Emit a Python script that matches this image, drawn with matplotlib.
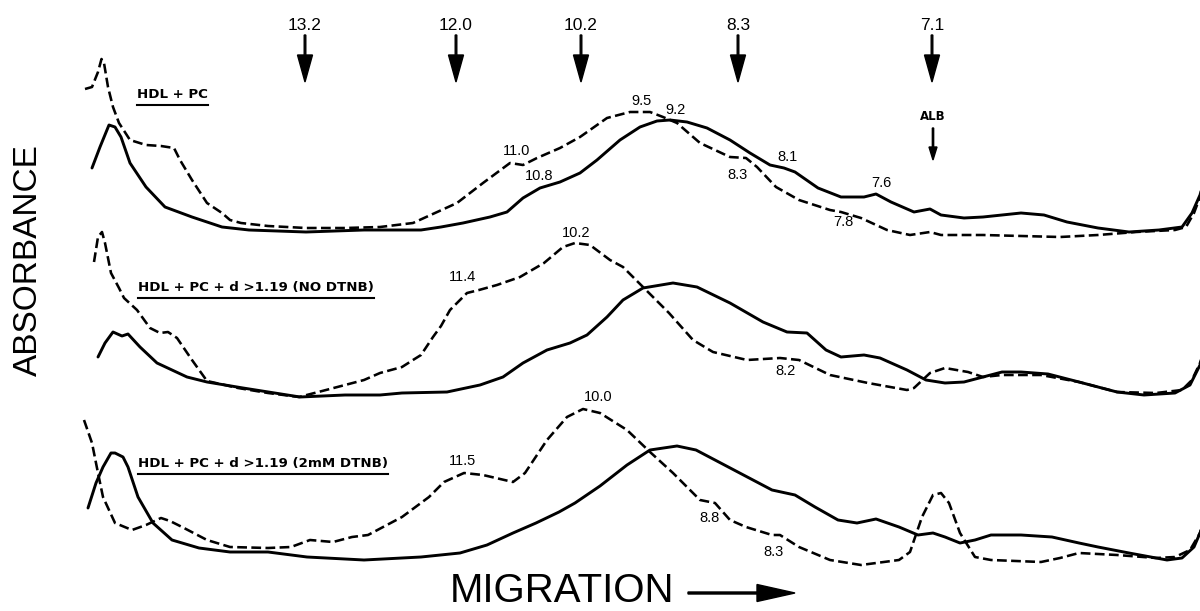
import matplotlib
matplotlib.use("Agg")
import matplotlib.pyplot as plt

plt.rcParams["font.family"] = ["Liberation Sans", "DejaVu Sans"]

# Densitometer traces (x = migration, y = pen position, down = low absorbance)
# --- HDL + PC ---
hdl_pc_dash_x = [85, 92, 98, 101.5, 104, 108, 113, 119, 130, 146, 161, 174, 180, 192, 207, 222, 230, 241,
                 268, 306, 345, 380, 413, 457, 483, 510, 523, 537, 560, 580, 607, 630, 650, 663, 677, 700,
                 730, 746, 757, 776, 799, 830, 841, 861, 887, 910, 930, 941, 983, 1060, 1098, 1136, 1175,
                 1186, 1194, 1200, 1204]
hdl_pc_dash_y = [89, 87, 72, 59, 63, 87, 107, 123, 140, 145, 146, 148, 160, 180, 203, 213, 220, 223,
                 226, 228, 228, 227, 223, 203, 183, 163, 165, 158, 148, 137, 118, 112, 112, 117, 123, 143,
                 157, 158, 167, 187, 200, 210, 212, 218, 230, 235, 232, 235, 235, 237, 235, 232, 230,
                 227, 213, 197, 185]
hdl_pc_solid_x = [92, 100, 109, 115, 121, 130, 146, 165, 192, 222, 249, 306, 364, 421, 441, 463, 490, 507,
                  523, 540, 560, 580, 597, 620, 640, 657, 670, 687, 707, 730, 750, 770, 784, 795, 818, 841,
                  864, 876, 891, 914, 930, 941, 964, 983, 1021, 1044, 1067, 1098, 1129, 1159, 1182, 1192,
                  1200, 1204]
hdl_pc_solid_y = [168, 147, 125, 127, 137, 163, 187, 207, 217, 227, 230, 232, 230, 230, 227, 223, 217, 212,
                  198, 188, 182, 173, 160, 140, 127, 121, 120, 122, 128, 140, 153, 165, 168, 172, 188, 197,
                  197, 194, 202, 212, 209, 215, 218, 217, 213, 215, 222, 228, 232, 230, 227, 213,
                  195, 180]

# --- HDL + PC + d>1.19 (NO DTNB) ---
no_dtnb_dash_x = [94, 98, 102, 105, 111, 119, 124, 137, 150, 160, 168, 177, 192, 207, 238, 268, 299, 326,
                  364, 380, 402, 413, 421, 433, 441, 450, 460, 467, 479, 497, 520, 544, 563, 575, 590, 610,
                  623, 644, 669, 693, 713, 747, 780, 799, 830, 868, 907, 914, 930, 945, 968, 983, 1002,
                  1041, 1079, 1117, 1156, 1182, 1192, 1200, 1204]
no_dtnb_dash_y = [262, 237, 232, 243, 273, 288, 298, 310, 328, 333, 332, 338, 360, 381, 388, 393, 397, 390,
                  380, 373, 367, 360, 355, 337, 326, 310, 300, 293, 290, 285, 277, 263, 247, 243, 245, 260,
                  267, 288, 313, 340, 352, 360, 358, 360, 375, 383, 390, 388, 373, 368, 372, 377, 375,
                  375, 382, 392, 393, 390, 380, 363, 350]
no_dtnb_solid_x = [98, 105, 113, 122, 128, 140, 157, 187, 207, 243, 300, 345, 380, 402, 447, 480, 503, 523,
                   547, 570, 587, 607, 623, 643, 673, 697, 730, 763, 787, 807, 826, 841, 864, 880, 907, 926,
                   945, 964, 983, 1002, 1021, 1048, 1079, 1117, 1144, 1175, 1190, 1200, 1204]
no_dtnb_solid_y = [357, 343, 332, 336, 334, 347, 363, 377, 382, 388, 397, 395, 395, 393, 392, 385, 377, 363,
                   350, 343, 335, 317, 300, 288, 283, 287, 303, 322, 332, 333, 350, 357, 355, 358, 370, 380,
                   383, 382, 377, 372, 372, 374, 382, 392, 395, 393, 385, 365, 352]

# --- HDL + PC + d>1.19 (2mM DTNB) ---
dtnb_dash_x = [84, 92, 98, 103, 115, 132, 146, 161, 170, 184, 207, 230, 268, 291, 310, 333, 352, 368, 402,
               429, 444, 464, 483, 513, 525, 547, 567, 583, 600, 627, 650, 673, 700, 715, 730, 746, 772, 780,
               799, 830, 861, 899, 910, 922, 933, 941, 949, 960, 975, 991, 1041, 1060, 1079, 1117, 1156,
               1175, 1190, 1200, 1204]
dtnb_dash_y = [420, 443, 473, 497, 523, 530, 525, 518, 521, 528, 540, 547, 548, 547, 540, 542, 537, 535, 517,
               497, 482, 473, 475, 482, 473, 440, 417, 409, 413, 430, 452, 473, 500, 503, 520, 527, 535, 535,
               547, 560, 565, 560, 552, 517, 495, 493, 503, 533, 557, 560, 562, 558, 553, 555, 558,
               557, 550, 533, 520]
dtnb_solid_x = [88, 96, 103, 111, 115, 123, 128, 138, 153, 172, 199, 230, 268, 307, 364, 421, 460, 487, 513,
                536, 559, 575, 600, 627, 650, 677, 696, 715, 734, 772, 795, 815, 838, 857, 876, 899, 918,
                933, 945, 960, 975, 991, 1021, 1052, 1079, 1098, 1129, 1167, 1182, 1194, 1200, 1204]
dtnb_solid_y = [508, 483, 467, 453, 453, 457, 467, 497, 523, 540, 548, 552, 552, 557, 560, 557, 553, 545, 533,
                523, 512, 503, 486, 465, 450, 446, 450, 460, 470, 490, 495, 507, 520, 523, 519, 527, 535,
                533, 537, 543, 540, 535, 535, 537, 543, 547, 553, 560, 558, 547, 533, 522]

# marker proteins (Stokes diameter, nm) along the top
marker_labels = ["13.2", "12.0", "10.2", "8.3", "7.1"]
marker_x = [305, 456, 581, 738, 932]

# peak labels
peak_labels = ["11.0", "10.8", "9.5", "9.2", "8.3", "8.1", "7.6", "7.8",
               "11.4", "10.2", "8.2",
               "11.5", "10.0", "8.8", "8.3"]
peak_x = [517, 539, 642, 675, 737, 787, 881, 843,
          463, 576, 786,
          463, 598, 709, 773]
peak_y = [151, 176, 101, 110, 175, 157, 183, 222,
          277, 233, 371,
          461, 397, 518, 552]

trace_names = ["HDL + PC", "HDL + PC + d >1.19 (NO DTNB)", "HDL + PC + d >1.19 (2mM DTNB)"]
trace_name_x = [137, 138, 138]
trace_name_y = [95, 288, 464]

fig = plt.figure(figsize=(12, 6.11), dpi=100)
ax = fig.add_axes([0, 0, 1, 1])
ax.set_xlim(0, 1200)
ax.set_ylim(611, 0)
ax.axis("off")

dash = (0, (3.8, 1.7))
for xs, ys in [(hdl_pc_dash_x, hdl_pc_dash_y), (no_dtnb_dash_x, no_dtnb_dash_y), (dtnb_dash_x, dtnb_dash_y)]:
    ax.plot(xs, ys, color="black", lw=1.85, linestyle=dash, solid_joinstyle="round")
for xs, ys in [(hdl_pc_solid_x, hdl_pc_solid_y), (no_dtnb_solid_x, no_dtnb_solid_y), (dtnb_solid_x, dtnb_solid_y)]:
    ax.plot(xs, ys, color="black", lw=2.1, solid_joinstyle="round", solid_capstyle="round")

# marker arrows
for lab, mx in zip(marker_labels, marker_x):
    ax.text(mx, 25, lab, ha="center", va="center", fontsize=12.5)
    ax.arrow(mx, 35, 0, 47, width=1.6, head_width=15, head_length=27,
             length_includes_head=True, fc="black", ec="black")

# albumin
ax.text(933, 117, "ALB", ha="center", va="center", fontsize=8.5, fontweight="bold",
        family="DejaVu Sans")
ax.arrow(933, 128, 0, 32, width=1.3, head_width=8, head_length=13,
         length_includes_head=True, fc="black", ec="black")

for lab, px, py in zip(peak_labels, peak_x, peak_y):
    ax.text(px, py, lab, ha="center", va="center", fontsize=10.5)

# underlined sample names
fig.canvas.draw()
renderer = fig.canvas.get_renderer()
for name, tx, ty in zip(trace_names, trace_name_x, trace_name_y):
    t = ax.text(tx, ty, name, ha="left", va="center", fontsize=9.6, fontweight="bold",
                family="DejaVu Sans")
    bb = t.get_window_extent(renderer).transformed(ax.transData.inverted())
    ax.plot([bb.x0, bb.x1], [ty + 10, ty + 10], color="black", lw=1.5)

ax.text(28, 260, "ABSORBANCE", rotation=90, ha="center", va="center", fontsize=24)
ax.text(562, 591, "MIGRATION", ha="center", va="center", fontsize=29)
ax.arrow(688, 593, 107, 0, width=2, head_width=17, head_length=38,
         length_includes_head=True, fc="black", ec="black")

fig.savefig("out.png", dpi=100)
